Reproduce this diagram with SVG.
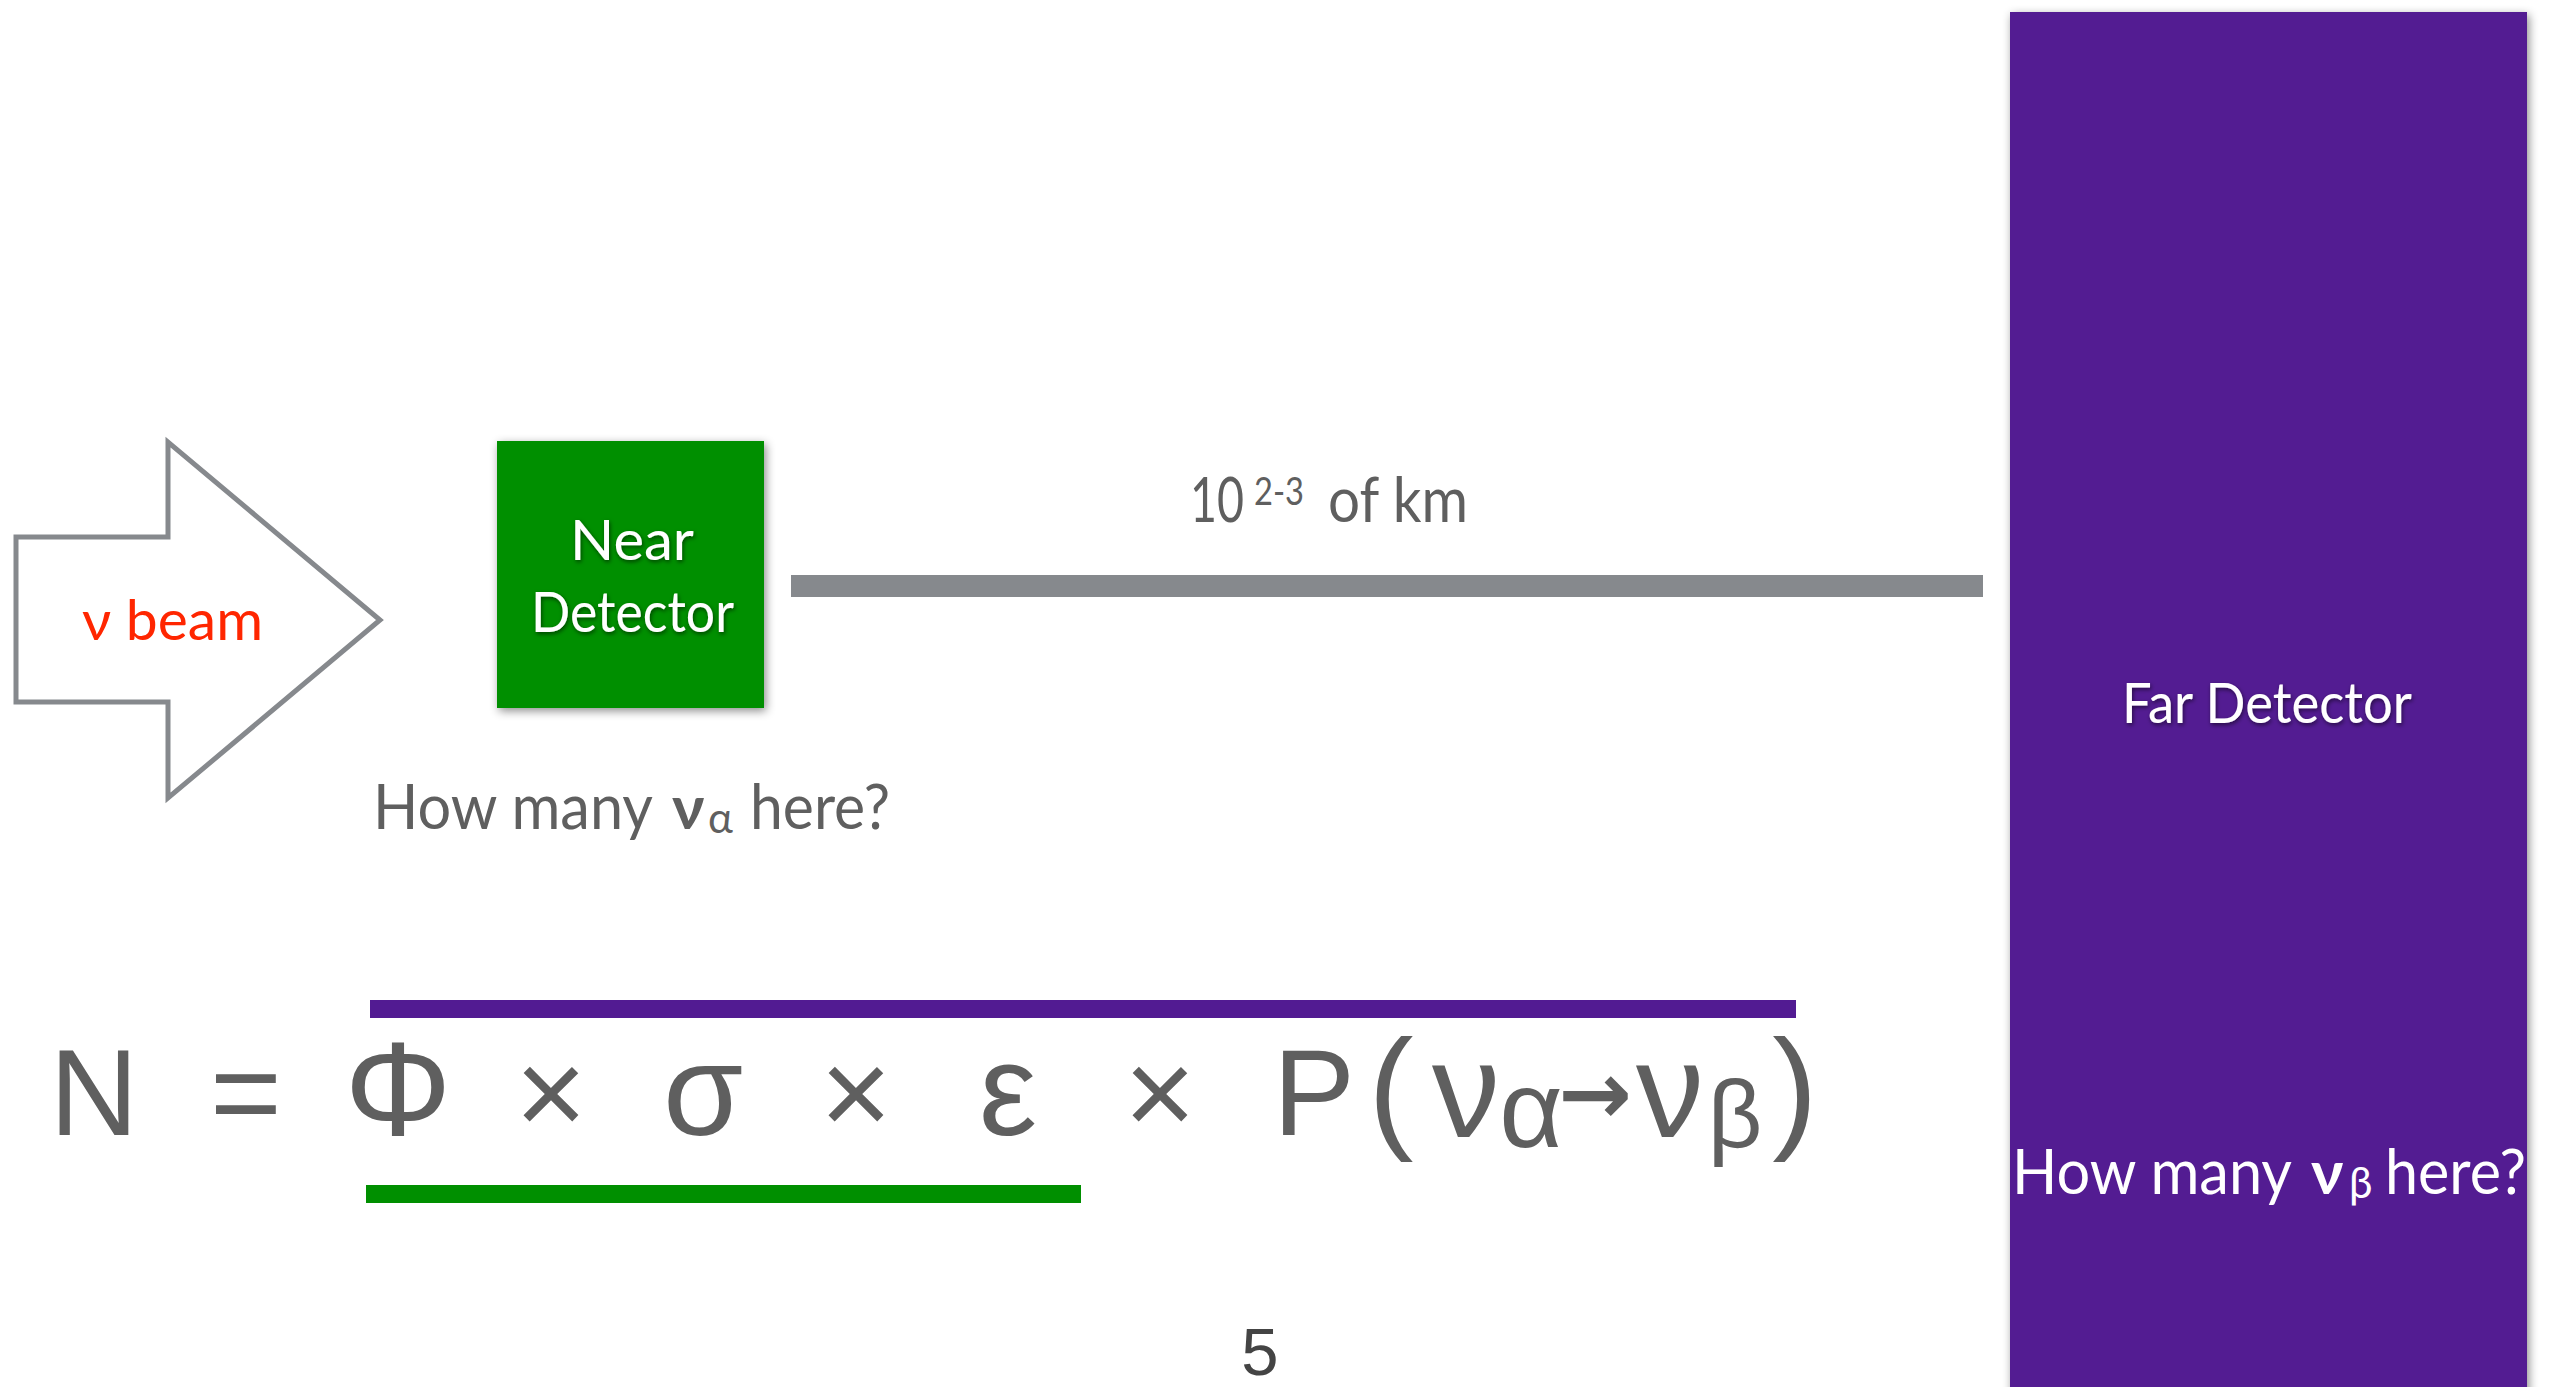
<svg xmlns="http://www.w3.org/2000/svg" width="2553" height="1387" viewBox="0 0 2553 1387">
  <defs>
    <filter id="boxShadow" x="-10%" y="-10%" width="120%" height="120%">
      <feDropShadow dx="2" dy="3" stdDeviation="5" flood-color="#000" flood-opacity="0.45"/>
    </filter>
    <filter id="textShadow" x="-5%" y="-20%" width="110%" height="140%">
      <feDropShadow dx="1" dy="2" stdDeviation="2" flood-color="#000" flood-opacity="0.55"/>
    </filter>
  </defs>
  <style>
    .label { font-family: Lato, "Open Sans", "Liberation Sans", sans-serif; }
    .gray { fill: #5f5f5f; }
    .white { fill: #ffffff; }
    .eq { font-family: "Liberation Sans", "DejaVu Sans", sans-serif; fill: #5f5f5f; text-anchor: middle; }
  </style>
  <rect x="0" y="0" width="2553" height="1387" fill="#ffffff"/>

  <g id="far-detector">
    <rect x="2010" y="12" width="517" height="1400" fill="#521b92" filter="url(#boxShadow)"/>
    <text class="label white" x="2122" y="723" font-size="56" textLength="290" lengthAdjust="spacingAndGlyphs" filter="url(#textShadow)">Far Detector</text>
    <text class="label white" font-size="62"><tspan x="2012" y="1194" textLength="280" lengthAdjust="spacingAndGlyphs">How many</tspan><tspan x="2311" y="1194" font-weight="bold">ν</tspan><tspan x="2349" y="1198" font-size="42">β</tspan><tspan x="2385" y="1194" textLength="141" lengthAdjust="spacingAndGlyphs">here?</tspan></text>
  </g>

  <g id="beam-arrow">
    <polygon points="16,537 168,537 168,442 380,620 168,798 168,702 16,702" fill="#ffffff" stroke="#86898d" stroke-width="5"/>
    <text class="label" x="82" y="640" font-size="56" fill="#ff2600" textLength="181" lengthAdjust="spacingAndGlyphs">ν beam</text>
  </g>

  <g id="near-detector">
    <rect x="497" y="441" width="267" height="267" fill="#008f00" filter="url(#boxShadow)"/>
    <text class="label white" x="570" y="560" font-size="56" textLength="124" lengthAdjust="spacingAndGlyphs" filter="url(#textShadow)">Near</text>
    <text class="label white" x="531" y="632" font-size="56" textLength="203" lengthAdjust="spacingAndGlyphs" filter="url(#textShadow)">Detector</text>
  </g>

  <g id="near-question">
    <text class="label gray" font-size="62"><tspan x="373" y="829" textLength="280" lengthAdjust="spacingAndGlyphs">How many</tspan><tspan x="672" y="829" font-weight="bold">ν</tspan><tspan x="708" y="833" font-size="42">α</tspan><tspan x="750" y="829" textLength="140" lengthAdjust="spacingAndGlyphs">here?</tspan></text>
  </g>

  <g id="connectors">
    <rect x="791" y="575" width="1192" height="22" fill="#86898d"/>
    <g id="distance-label">
      <text class="label gray" font-size="62"><tspan x="1190" y="522" textLength="54" lengthAdjust="spacingAndGlyphs">10</tspan><tspan x="1254" y="505" font-size="38" textLength="50" lengthAdjust="spacingAndGlyphs">2-3</tspan><tspan x="1328" y="522" textLength="140" lengthAdjust="spacingAndGlyphs">of km</tspan></text>
    </g>
  </g>

  <g id="equation">
    <rect x="370" y="1000" width="1426" height="18" fill="#521b92"/>
    <rect x="366" y="1185" width="715" height="18" fill="#008f00"/>
    <text class="eq" font-size="123"><tspan x="94" y="1135">N</tspan><tspan x="246" y="1135">=</tspan><tspan x="398" y="1135" font-size="134">Φ</tspan><tspan x="551" y="1135">×</tspan><tspan x="703" y="1135" font-size="130">σ</tspan><tspan x="856" y="1135">×</tspan><tspan x="1008" y="1135" font-size="130">ε</tspan><tspan x="1160" y="1135">×</tspan><tspan x="1314" y="1135">P</tspan><tspan x="1391" y="1134" font-size="136">(</tspan><tspan x="1466" y="1137" font-size="136">ν</tspan><tspan x="1531" y="1147" font-size="110">α</tspan><tspan x="1595" y="1124" font-size="88" font-weight="bold" style="font-family:'DejaVu Sans',sans-serif">→</tspan><tspan x="1670" y="1137" font-size="136">ν</tspan><tspan x="1735" y="1147" font-size="95">β</tspan><tspan x="1795" y="1134" font-size="136">)</tspan></text>
  </g>

  <g id="page-number">
    <text x="1260" y="1375" font-family="'Liberation Sans', sans-serif" font-size="67" fill="#444444" text-anchor="middle">5</text>
  </g>
</svg>
